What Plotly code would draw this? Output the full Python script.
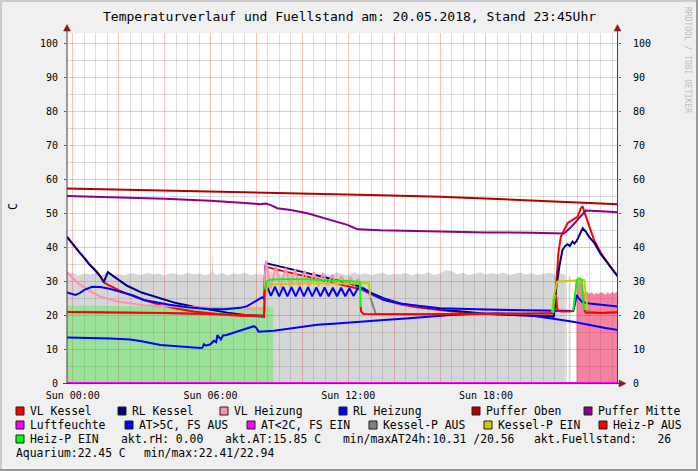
import plotly.graph_objects as go

# ---------------- data (hours of 20.05.2018, value in C) ----------------
gray_t = [-0.25, 0.0, 0.25, 0.5, 0.75, 1.0, 1.25, 1.5, 1.75, 2.0, 2.25, 2.5, 2.75, 3.0, 3.25, 3.5, 3.75, 4.0,
          4.25, 4.5, 4.75, 5.0, 5.25, 5.5, 5.75, 6.0, 6.06, 6.09, 6.12, 6.25, 6.5, 6.75, 7.0, 7.25, 7.5, 7.75,
          8.0, 8.25, 8.5, 8.75, 9.0, 9.25, 9.5, 9.75, 10.0, 10.25, 10.5, 10.75, 11.0, 11.25, 11.5, 11.75, 12.0,
          12.25, 12.5, 12.75, 13.0, 13.25, 13.5, 13.75, 14.0, 14.25, 14.5, 14.75, 15.0, 15.25, 15.5, 15.75, 16.0,
          16.25, 16.5, 16.75, 17.0, 17.25, 17.5, 17.75, 18.0, 18.25, 18.5, 18.75, 19.0, 19.25, 19.5, 19.75, 20.0,
          20.25, 20.5, 20.75, 21.0, 21.25, 21.47]
gray_v = [32.0, 32.4, 31.6, 32.2, 31.9, 32.3, 31.7, 32.5, 31.8, 32.1, 31.6, 32.3, 32.0, 31.7, 32.4, 31.9, 32.2, 31.6,
          32.3, 32.0, 31.8, 32.4, 31.9, 32.2, 31.7, 32.1, 33.0, 39.5, 32.5, 31.8, 32.3, 31.6, 32.2, 31.9, 32.4, 31.7,
          32.1, 31.8, 33.0, 32.4, 31.9, 32.5, 32.0, 31.7, 32.3, 31.8, 32.4, 31.9, 32.2, 31.6, 32.5, 32.0, 31.8,
          32.6, 31.9, 32.3, 31.7, 32.2, 32.5, 31.8, 32.1, 31.9, 32.4, 31.7, 32.2, 32.0, 32.6, 31.8, 32.3,
          33.2, 32.9, 32.0, 32.4, 31.8, 32.2, 32.6, 31.9, 32.3, 32.0, 32.5, 31.8, 32.2, 32.4, 31.9, 32.3,
          31.7, 32.1, 32.4, 31.9, 32.2, 31.8]
gray2_t = [21.6, 21.68]
gray2_v = [31.5, 31.5]

green_t = [-0.25, 4.0, 8.73]
green_v = [22.7, 22.6, 22.4]

pink_t = [21.94, 21.98, 22.05, 22.1, 22.15, 22.2, 22.3, 22.4, 22.5, 22.6, 22.7, 22.8, 22.9, 23.0, 23.1, 23.2,
          23.3, 23.4, 23.5, 23.6, 23.75]
pink_v = [28.0, 30.5, 29.5, 31.0, 28.0, 27.5, 26.5, 27.0, 26.2, 26.8, 26.0, 26.5, 26.2, 26.8, 26.3, 26.0,
          26.6, 26.2, 26.8, 26.4, 27.0]

vlk_t = [-0.25, 0.0, 0.25, 0.5, 0.75, 1.0, 1.2, 1.35, 1.5, 2.0, 2.37, 3.1, 3.82, 4.5, 5.27, 6.0, 6.73, 7.5, 8.2,
         8.33, 8.38, 8.5, 9.0, 10.0, 11.0, 12.0, 12.54, 13.0, 13.56, 14.28, 15.0, 16.46, 18.0, 19.5, 20.95,
         21.05, 21.15, 21.26, 21.4, 21.55, 21.75, 21.99, 22.13, 22.21, 22.28, 22.42, 22.71, 23.0, 23.3, 23.5, 23.75]
vlk_v = [43.0, 40.8, 38.8, 36.8, 34.7, 33.0, 31.4, 29.6, 29.0, 27.3, 26.2, 24.4, 22.9, 21.9, 21.0, 20.5, 20.0, 19.7,
         19.5, 19.6, 33.8, 34.0, 33.2, 31.6, 30.0, 28.6, 27.6, 26.0, 24.5, 23.1, 22.3, 21.1, 20.3, 19.9, 19.8,
         28.0, 38.0, 43.0, 44.8, 47.0, 47.9, 48.9, 51.4, 52.0, 50.4, 47.5, 42.0, 38.3, 35.2, 33.4, 31.3]

rlk_t = [-0.25, 0.0, 0.25, 0.5, 0.75, 1.0, 1.2, 1.35, 1.45, 1.53, 1.8, 2.1, 2.37, 3.0, 3.82, 4.5, 5.27, 6.0, 6.73,
         7.5, 8.18, 8.33, 8.38, 8.42, 9.0, 10.0, 11.0, 12.0, 12.54, 13.0, 13.56, 14.28, 15.0, 16.46, 18.0, 19.5,
         20.95, 21.0, 21.04, 21.2, 21.33, 21.45, 21.55, 21.65, 21.77, 21.85, 21.95, 22.21, 22.35, 22.49, 22.71,
         23.0, 23.3, 23.5, 23.75]
rlk_v = [43.0, 40.8, 38.8, 36.8, 34.7, 33.0, 31.4, 29.7, 31.5, 32.6, 31.3, 29.8, 28.6, 26.6, 24.9, 23.5, 22.4, 21.5,
         20.7, 20.0, 19.5, 19.6, 34.0, 35.2, 34.3, 32.7, 31.0, 29.4, 28.3, 26.5, 24.9, 23.4, 22.6, 21.3, 20.4, 19.9,
         19.5, 22.0, 27.0, 34.5, 39.1, 40.3, 40.8, 40.3, 41.6, 41.0, 41.8, 45.5, 44.5, 43.0, 41.3,
         37.9, 35.2, 33.3, 31.3]

vlh_t = [-0.25, 0.0, 0.25, 0.48, 0.8, 1.2, 1.6, 2.0, 3.1, 4.2, 5.3, 6.5, 7.5, 8.18, 8.33, 8.38, 8.42, 8.62, 8.85,
         9.05, 9.27, 9.47, 9.68, 9.88, 10.1, 10.3, 10.5, 10.7, 10.9, 11.1, 11.3, 11.5, 11.7, 11.9, 12.1, 12.27,
         12.45, 12.6, 13.0, 13.56, 14.3, 16.0, 18.0, 20.0, 20.97, 21.8, 21.88, 21.95, 22.05, 22.2, 22.5, 23.0, 23.75]
vlh_v = [32.6, 30.8, 29.2, 28.3, 26.8, 25.4, 24.6, 23.9, 22.9, 22.5, 22.3, 22.0, 21.8, 21.7, 21.8, 33.0, 36.0, 27.8,
         34.3, 28.0, 33.8, 28.2, 33.4, 28.3, 33.0, 28.4, 32.6, 28.5, 32.3, 28.6, 31.9, 28.7, 31.5, 28.8, 31.2, 29.0,
         30.6, 27.6, 26.0, 24.4, 23.2, 22.0, 21.6, 21.3, 21.3, 21.2, 23.5, 25.9, 24.8, 23.8, 23.4, 23.0, 22.5]

rlh_t = [-0.25, 0.0, 0.12, 0.3, 0.5, 0.85, 1.2, 1.6, 2.1, 2.6, 3.1, 3.6, 4.2, 5.0, 6.0, 6.6, 7.3, 7.6, 7.9, 8.1,
         8.25, 8.33, 8.38, 8.45, 8.63, 8.81, 8.99, 9.17, 9.35, 9.53, 9.71, 9.89, 10.07, 10.25, 10.43, 10.61, 10.79,
         10.97, 11.15, 11.33, 11.51, 11.69, 11.87, 12.05, 12.23, 12.41, 12.54, 13.0, 13.56, 14.3, 16.0, 18.0,
         20.0, 20.97, 21.8, 21.88, 21.95, 22.05, 22.2, 22.5, 23.0, 23.75]
rlh_v = [26.6, 26.0, 25.9, 26.4, 27.4, 28.3, 28.2, 27.7, 26.8, 25.8, 24.4, 23.7, 23.0, 22.3, 21.7, 21.7, 22.1, 22.6,
         23.9, 24.6, 25.2, 24.8, 27.5, 28.7, 25.6, 28.3, 25.5, 28.3, 25.5, 28.2, 25.5, 28.2, 25.5, 28.2, 25.5, 28.1,
         25.5, 28.1, 25.5, 28.0, 25.5, 28.0, 25.5, 27.9, 25.6, 27.8, 27.9, 26.2, 24.4, 23.3, 22.0, 21.6,
         21.3, 21.3, 21.2, 23.5, 25.9, 24.8, 23.8, 23.4, 23.0, 22.5]

po_t = [-0.25, 2.0, 4.0, 6.0, 8.2, 10.0, 13.4, 16.0, 18.0, 20.0, 22.0, 23.75]
po_v = [57.2, 56.9, 56.6, 56.3, 56.0, 55.7, 55.2, 54.8, 54.2, 53.6, 53.1, 52.6]

pm_t = [-0.25, 2.0, 4.0, 6.0, 8.18, 8.4, 8.6, 8.91, 9.5, 10.22, 10.7, 11.09, 11.5, 11.96, 12.2, 12.4, 13.41, 16.0,
        18.0, 20.0, 21.4, 21.7, 22.0, 22.2, 22.35, 23.0, 23.75]
pm_v = [55.0, 54.6, 54.2, 53.6, 52.6, 52.8, 52.4, 51.4, 50.9, 49.9, 49.0, 48.1, 47.4, 46.5, 45.8, 45.2, 44.9, 44.5,
        44.3, 44.2, 44.0, 45.8, 48.0, 49.3, 50.7, 50.5, 50.2]

rh_t = [-0.25, 23.75]
rh_v = [0.0, 0.0]

at_t = [-0.25, 0.5, 1.0, 1.64, 2.5, 3.0, 3.82, 4.5, 5.0, 5.56, 5.65, 5.71, 5.8, 6.0, 6.15, 6.25, 6.3, 6.4, 6.45,
        6.55, 6.7, 7.0, 7.3, 7.6, 7.89, 8.0, 8.1, 8.76, 9.3, 9.92, 10.65, 11.5, 12.5, 13.56, 14.5, 15.5, 16.46,
        17.5, 18.5, 19.5, 20.4, 21.0, 21.8, 22.5, 23.2, 23.75]
at_v = [13.4, 13.3, 13.3, 13.1, 12.8, 12.3, 11.2, 10.8, 10.5, 10.3, 10.4, 11.4, 11.0, 11.4, 12.4, 12.0, 14.1, 13.0,
        12.8, 14.0, 14.1, 14.8, 15.5, 16.0, 16.7, 16.2, 15.1, 15.4, 15.9, 16.6, 17.1, 17.5, 17.9, 18.5, 19.0, 19.6,
        20.0, 20.3, 20.5, 20.3, 19.5, 18.8, 18.0, 17.0, 16.2, 15.6]

# Kessel-Pumpe: line coloured by pump state (1 = EIN)
kp_t = [-0.25, 4.0, 8.33, 8.38, 8.5, 10.0, 12.0, 12.9, 12.97, 13.05, 13.12, 13.2, 15.0, 17.0, 19.0, 20.88, 20.92,
        20.97, 21.1, 21.5, 22.0, 22.28, 22.36, 22.42, 22.48, 23.0, 23.75]
kp_v = [20.9, 20.6, 19.8, 26.0, 29.0, 29.3, 29.3, 29.4, 25.0, 23.5, 22.0, 20.3, 20.2, 20.3, 20.4, 20.5, 24.4,
        26.0, 29.8, 30.0, 30.2, 30.3, 25.0, 21.5, 21.0, 20.6, 20.8]
kp_on = [0, 0, 0, 1, 1, 1, 1, 1, 1, 0, 0, 0, 0, 0, 0, 0, 1,
         1, 1, 1, 1, 1, 1, 1, 0, 0, 0]

# Heiz-Pumpe: line coloured by pump state (1 = EIN)
hp_t = [-0.25, 2.0, 4.0, 6.0, 7.5, 8.33, 8.37, 8.45, 8.6, 9.0, 10.0, 11.0, 12.0, 12.5, 12.54, 12.56, 12.67, 13.5,
        15.0, 17.0, 19.0, 20.93, 20.97, 21.05, 21.1, 21.15, 21.3, 21.6, 21.8, 21.86, 21.95, 22.05, 22.15, 22.22,
        22.27, 22.35, 23.0, 23.75]
hp_v = [20.9, 20.8, 20.6, 20.3, 20.0, 19.8, 27.5, 29.8, 30.4, 30.5, 30.5, 30.3, 30.0, 29.7, 22.5, 21.0, 20.3, 20.2,
        20.2, 20.3, 20.4, 20.5, 24.5, 25.9, 22.0, 21.2, 21.0, 21.0, 21.2, 25.0, 30.3, 30.8, 30.5, 26.0,
        21.5, 20.7, 20.6, 20.8]
hp_on = [0, 0, 0, 0, 0, 0, 0, 1, 1, 1, 1, 1, 1, 1, 1, 0, 0, 0,
         0, 0, 0, 0, 1, 1, 0, 0, 0, 0, 0, 1, 1, 1, 1, 1,
         1, 0, 0, 0]

x_tick_hours = [0, 6, 12, 18]
x_tick_labels = ["Sun 00:00", "Sun 06:00", "Sun 12:00", "Sun 18:00"]

legend_rows = [
    [("VL Kessel", "#FF0000"), ("RL Kessel", "#000080"), ("VL Heizung", "#FF8FAF"), ("RL Heizung", "#0000FF"),
     ("Puffer Oben", "#B00000"), ("Puffer Mitte", "#8B008B")],
    [("Luftfeuchte", "#FF00FF"), ("AT>5C, FS AUS", "#0000FF"), ("AT<2C, FS EIN", "#FF00FF"),
     ("Kessel-P AUS", "#808080"), ("Kessel-P EIN", "#CCCC00"), ("Heiz-P AUS", "#FF0000")],
    [("Heiz-P EIN", "#00FF00")],
]
info_texts = ["akt.rH: 0.00", "akt.AT:15.85 C", "min/maxAT24h:10.31 /20.56", "akt.Fuellstand:\u00a0\u00a0\u00a026"]
aqua_texts = ["Aquarium:22.45 C", "min/max:22.41/22.94"]
title_text = "Temperaturverlauf und Fuellstand am: 20.05.2018, Stand 23:45Uhr"

# ---------------- layout geometry ----------------
W, H = 698, 471
L, R, T, B = 67, 618, 33, 383
X0, X1 = -0.25, 23.75
Y1 = (B - T) / 3.4
MONO = "DejaVu Sans Mono"


def px(x):
    return (x - L) / (R - L)


def py(y):
    return (B - y) / (B - T)


def split_by_state(t, v, s):
    on_x, on_y, off_x, off_y = [], [], [], []
    prev = None
    for i in range(1, len(t)):
        tx, ty = (on_x, on_y) if s[i] else (off_x, off_y)
        if prev == s[i] and tx:
            tx.append(t[i]); ty.append(v[i])
        else:
            if tx:
                tx.append(None); ty.append(None)
            tx += [t[i - 1], t[i]]; ty += [v[i - 1], v[i]]
        prev = s[i]
    return on_x, on_y, off_x, off_y


fig = go.Figure()


def area(t, v, color):
    fig.add_trace(go.Scatter(x=t, y=v, mode="lines", fill="tozeroy", fillcolor=color,
                             line=dict(width=0, color=color), hoverinfo="skip", showlegend=False))


def line(t, v, color, w=2):
    fig.add_trace(go.Scatter(x=t, y=v, mode="lines", line=dict(width=w, color=color),
                             hoverinfo="skip", showlegend=False, connectgaps=False))


area(gray_t, gray_v, "rgba(95,95,95,0.26)")
area(gray2_t, gray2_v, "rgba(95,95,95,0.26)")
area(green_t, green_v, "rgba(0,255,0,0.28)")
area(pink_t, pink_v, "rgba(235,5,65,0.50)")

line(vlk_t, vlk_v, "#FF0000")
line(rlk_t, rlk_v, "#000080")
line(vlh_t, vlh_v, "#FF8FAF")
line(rlh_t, rlh_v, "#0000FF")
line(po_t, po_v, "#B00000")
line(pm_t, pm_v, "#8B008B")
line(rh_t, rh_v, "#FF00FF")
line(at_t, at_v, "#0000FF")
kon_x, kon_y, koff_x, koff_y = split_by_state(kp_t, kp_v, kp_on)
line(koff_x, koff_y, "#808080")
line(kon_x, kon_y, "#CCCC00")
hon_x, hon_y, hoff_x, hoff_y = split_by_state(hp_t, hp_v, hp_on)
line(hoff_x, hoff_y, "#FF0000")
line(hon_x, hon_y, "#00FF00")

# trace for right axis
fig.add_trace(go.Scatter(x=[None], y=[None], yaxis="y2", showlegend=False, hoverinfo="skip"))

GRID_MIN = "rgba(128,128,128,0.26)"
GRID_MAJ = "rgba(255,0,0,0.25)"
TICKFONT = dict(family=MONO, size=10, color="#000000")

x_major = list(range(0, 24, 2))
x_minor = [k / 2 for k in range(0, 48) if k % 4 != 0]
y_minor = [5 + 10 * k for k in range(10)]

fig.update_layout(
    width=W, height=H,
    margin=dict(l=L, r=W - R, t=T, b=H - B, pad=0),
    paper_bgcolor="#F0F0F0", plot_bgcolor="#FFFFFF",
    showlegend=False, hovermode=False,
    xaxis=dict(range=[X0, X1], tickmode="array",
               tickvals=x_major,
               ticktext=[x_tick_labels[x_tick_hours.index(h)] if h in x_tick_hours else "" for h in x_major],
               showgrid=True, gridcolor=GRID_MAJ, gridwidth=1,
               minor=dict(tickmode="array", tickvals=x_minor, showgrid=True, gridcolor=GRID_MIN, gridwidth=1),
               zeroline=False, showline=False, ticks="", tickfont=TICKFONT, ticklabelstandoff=5,
               fixedrange=True),
    yaxis=dict(range=[0, Y1], tick0=0, dtick=10, showgrid=True, gridcolor=GRID_MAJ, gridwidth=1,
               minor=dict(tickmode="array", tickvals=y_minor, showgrid=True, gridcolor=GRID_MIN, gridwidth=1),
               zeroline=False, showline=False, ticks="outside", ticklen=2, tickcolor="#555555",
               tickfont=TICKFONT, ticklabelstandoff=4, fixedrange=True),
    yaxis2=dict(range=[0, Y1], tick0=0, dtick=10, overlaying="y", side="right", showgrid=False,
                zeroline=False, showline=False, ticks="outside", ticklen=2, tickcolor="#555555",
                tickfont=TICKFONT, ticklabelstandoff=10, fixedrange=True),
)

shapes = []
AX = "#404040"
ARROW = "#8B1A1A"
# axis lines
shapes.append(dict(type="line", xref="paper", yref="paper", x0=px(L), x1=px(L), y0=py(B + 1), y1=py(29),
                   line=dict(color=AX, width=1), layer="above"))
shapes.append(dict(type="line", xref="paper", yref="paper", x0=px(R - 0.5), x1=px(R - 0.5), y0=py(B + 1), y1=py(29),
                   line=dict(color=AX, width=1), layer="above"))
shapes.append(dict(type="line", xref="paper", yref="paper", x0=px(63), x1=px(621), y0=py(B + 0.5), y1=py(B + 0.5),
                   line=dict(color=AX, width=1), layer="below"))


def tri(points):
    p = "M " + " L ".join(f"{px(a)},{py(b)}" for a, b in points) + " Z"
    return dict(type="path", xref="paper", yref="paper", path=p, fillcolor=ARROW,
                line=dict(color=ARROW, width=0.5), layer="above")


shapes.append(tri([(L, 24.5), (L - 3.5, 31), (L + 3.5, 31)]))
shapes.append(tri([(R - 0.5, 24.5), (R - 4, 31), (R + 3, 31)]))
shapes.append(tri([(626, B + 0.5), (619, B - 3), (619, B + 4)]))

# outer 3D frame
shapes.append(dict(type="rect", xref="paper", yref="paper", x0=px(0), x1=px(2), y0=py(H), y1=py(0),
                   fillcolor="#CBCBCB", line=dict(width=0), layer="above"))
shapes.append(dict(type="rect", xref="paper", yref="paper", x0=px(0), x1=px(W), y0=py(2), y1=py(0),
                   fillcolor="#CBCBCB", line=dict(width=0), layer="above"))
shapes.append(dict(type="rect", xref="paper", yref="paper", x0=px(W - 2), x1=px(W), y0=py(H), y1=py(0),
                   fillcolor="#999999", line=dict(width=0), layer="above"))
shapes.append(dict(type="rect", xref="paper", yref="paper", x0=px(0), x1=px(W), y0=py(H), y1=py(H - 2),
                   fillcolor="#999999", line=dict(width=0), layer="above"))

annotations = []


def text(xp, yp, s, size=11.4, anchor="left", color="#000000", angle=0):
    annotations.append(dict(xref="paper", yref="paper", x=px(xp), y=py(yp), text=s, showarrow=False,
                            xanchor=anchor, yanchor="middle", textangle=angle, borderpad=0,
                            font=dict(family=MONO, size=size, color=color)))


# legend
row_y = [411, 425, 439, 453]
box_x = [[16, 118, 220, 339, 472, 584], [16, 125, 247, 369, 484, 599], [16]]
for r, entries in enumerate(legend_rows):
    for c, (lab, col) in enumerate(entries):
        bx = box_x[r][c]
        shapes.append(dict(type="rect", xref="paper", yref="paper", x0=px(bx), x1=px(bx + 8),
                           y0=py(row_y[r] + 4), y1=py(row_y[r] - 4), fillcolor=col,
                           line=dict(color="#202020", width=1), layer="above"))
        text(bx + 13, row_y[r], lab)
for xp, s in zip([120, 224, 342, 533], info_texts):
    text(xp, row_y[2], s)
for xp, s in zip([15, 143], aqua_texts):
    text(xp, row_y[3], s)

text(349, 17, title_text, size=13, anchor="center")
text(13, 207, "C", size=11.5, anchor="center", angle=-90)
text(688, 60, "RRDTOOL / TOBI OETIKER", size=8, anchor="center", color="#BDBDBD", angle=90)

fig.update_layout(shapes=shapes, annotations=annotations)
fig.write_html("out.html", config={"displayModeBar": False},
               post_script="document.body.style.margin='0';document.body.style.overflow='hidden';")
